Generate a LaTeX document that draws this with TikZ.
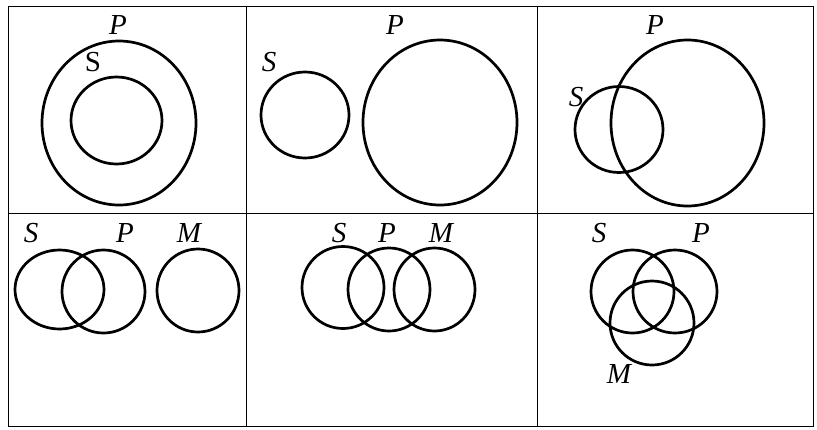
\documentclass[tikz,border=0pt]{standalone}
\usepackage{fontspec}
\setmainfont{Liberation Serif}
\begin{document}
\begin{tikzpicture}[x=1pt,y=-1pt,
  grid/.style={line width=1pt},
  ring/.style={line width=2.7pt},
  lab/.style={font=\fontsize{29}{30}\selectfont\itshape, inner sep=0pt},
  labup/.style={font=\fontsize{29}{30}\selectfont, inner sep=0pt}]
\useasboundingbox (0,0) rectangle (817,429);
% grid
\draw[grid] (8,6) rectangle (813,426);
\draw[grid] (8,213) -- (813,213);
\draw[grid] (246,6) -- (246,426);
\draw[grid] (537,6) -- (537,426);
% cell 1
\draw[ring] (119,123) ellipse [x radius=77, y radius=82];
\draw[ring] (116.5,120.5) ellipse [x radius=45.5, y radius=43.5];
\node[lab] (p1) at (118,25) {P};
\node[labup] (s1) at (93,62) {S};
% cell 2
\draw[ring] (305,115) ellipse [x radius=44, y radius=43];
\draw[ring] (440,122.5) ellipse [x radius=77, y radius=82.5];
\node[lab] (s2) at (269,62) {S};
\node[lab] (p2) at (395,25) {P};
% cell 3
\draw[ring] (619,129.5) ellipse [x radius=44, y radius=43];
\draw[ring] (687.5,123) ellipse [x radius=76.5, y radius=83];
\node[lab] (s3) at (576,97) {S};
\node[lab] (p3) at (655,25) {P};
% cell 4
\draw[ring] (59.5,289.5) ellipse [x radius=44.5, y radius=39.5];
\draw[ring] (103.5,291.5) ellipse [x radius=41.5, y radius=41.5];
\draw[ring] (198,290.5) ellipse [x radius=41, y radius=41.5];
\node[lab] (s4) at (31,233) {S};
\node[lab] (p4) at (125,233) {P};
\node[lab] (m4) at (189,233) {M};
% cell 5
\draw[ring] (343,287.5) ellipse [x radius=41, y radius=41];
\draw[ring] (389,289.5) ellipse [x radius=41, y radius=41.5];
\draw[ring] (434.5,289.5) ellipse [x radius=40.5, y radius=41.5];
\node[lab] (s5) at (339,233) {S};
\node[lab] (p5) at (387,233) {P};
\node[lab] (m5) at (441,233) {M};
% cell 6
\draw[ring] (632.5,291.5) ellipse [x radius=41.5, y radius=41.5];
\draw[ring] (675,291.5) ellipse [x radius=42, y radius=41.5];
\draw[ring] (652,323) ellipse [x radius=42, y radius=42];
\node[lab] (s6) at (599,233) {S};
\node[lab] (p6) at (701,233) {P};
\node[lab] (m6) at (619,374) {M};
\end{tikzpicture}
\end{document}
